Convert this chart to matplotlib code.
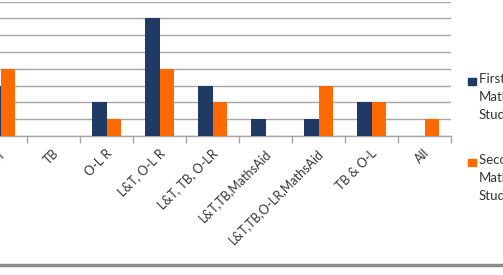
import matplotlib
matplotlib.use("Agg")
import matplotlib.pyplot as plt
from matplotlib.patches import Rectangle
from matplotlib.lines import Line2D
import matplotlib.transforms as mtrans
import numpy as np

categories = ["L&T", "TB", "O-L R", "L&T, O-L R", "L&T, TB, O-LR",
              "L&T,TB,MathsAid", "L&T,TB,O-LR,MathsAid", "TB & O-L", "All"]
first_year = [3, 0, 2, 7, 3, 1, 1, 2, 0]
second_year = [4, 0, 1, 4, 2, 0, 3, 2, 1]
series_names = ["First Year\nMaths\nStudents", "Second Year\nMaths\nStudents"]

navy = "#1f3a64"
orange = "#ff6a00"
grid_c = "#a6a6a6"

plt.rcParams['font.family'] = ['Lato', 'DejaVu Sans']

W, H = 503, 275
fig = plt.figure(figsize=(W / 100, H / 100), dpi=100)
ax = fig.add_axes([0, (H - 136) / H, 451 / W, (136 - 1.7) / H])

x = np.arange(len(categories))
bw = 0.275
ax.bar(x - bw / 2, first_year, bw, color=navy, zorder=3)
ax.bar(x + bw / 2, second_year, bw, color=orange, zorder=3)

ax.set_yticks(range(0, 9))
ax.yaxis.grid(True, color=grid_c, linewidth=1.0, zorder=0)
ax.tick_params(axis='y', left=False, labelleft=False)
for s in ['top', 'left', 'right']:
    ax.spines[s].set_visible(False)
ax.spines['bottom'].set_color(grid_c)
ax.spines['bottom'].set_linewidth(1.0)

# category boundary ticks
ax.set_xticks(np.arange(-0.5, len(categories)), minor=True)
ax.tick_params(axis='x', which='minor', length=5, color=grid_c, width=1)
ax.set_xticks(x)
ax.tick_params(axis='x', which='major', length=0, pad=8)
ax.set_xticklabels(categories, rotation=45, ha='right', va='top',
                   rotation_mode='anchor', fontsize=9, color='#333333')
offset = mtrans.ScaledTranslation(-1 / 100, 0, fig.dpi_scale_trans)
for lbl in ax.get_xticklabels():
    lbl.set_transform(lbl.get_transform() + offset)

ax.set_xlim(-0.01, 8.5)
ax.set_ylim(0, 8)

# legend (cut off by figure edge, as in the reference)
for i, (name, col) in enumerate(zip(series_names, [navy, orange])):
    ytop = [81, 162][i]
    fig.patches.append(Rectangle((468 / W, 1 - (ytop + 4) / H), 7.5 / W, 7.5 / H,
                                 transform=fig.transFigure, color=col))
    fig.text(479 / W, 1 - (ytop - 8) / H, name, fontsize=9.5, color='#333333',
             va='top', ha='left', linespacing=1.6)

# bottom border line
fig.add_artist(Line2D([0, 1], [1 - 264.5 / H, 1 - 264.5 / H], transform=fig.transFigure,
                      color='#8c8c8c', linewidth=2.5))

fig.savefig("out.png", dpi=100)
